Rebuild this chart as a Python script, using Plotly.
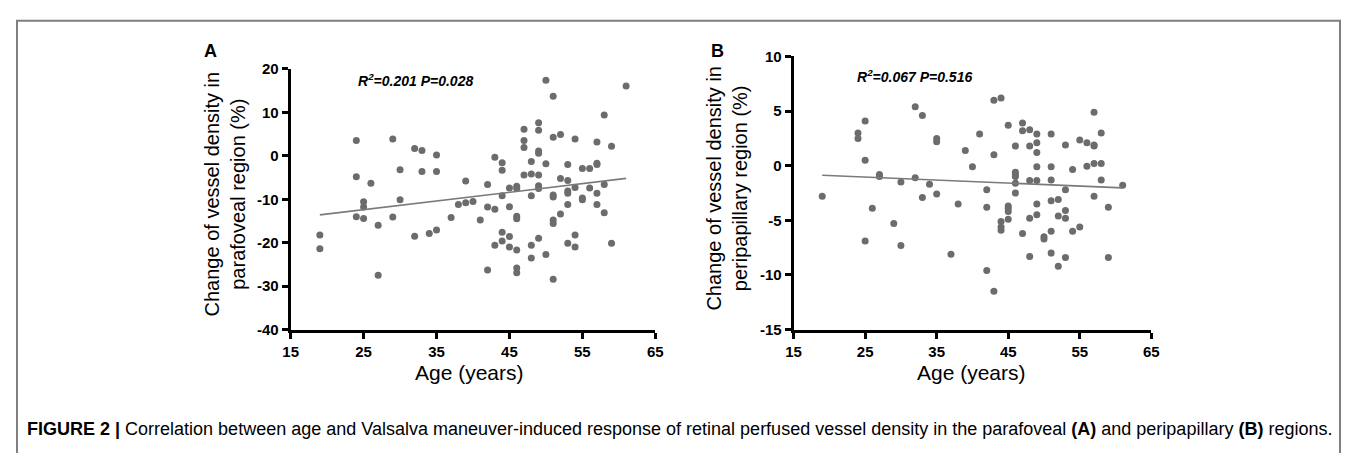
import plotly.graph_objects as go

# ---------------- data ----------------
age_a = [19, 19, 24, 24, 24, 25, 25, 25, 26, 27, 27, 29, 29, 30, 30, 32, 32, 33, 33, 34,
         35, 35, 35, 37, 38, 39, 39, 40, 41, 42, 42, 42, 43, 43, 43, 44, 44, 44, 44, 44,
         45, 45, 45, 45, 46, 46, 46, 46, 46, 46, 46, 47, 47, 47, 47, 48, 48, 48, 48, 48,
         49, 49, 49, 49, 49, 49, 49, 49, 50, 50, 50, 51, 51, 51, 51, 51, 51, 51, 52, 52,
         52, 53, 53, 53, 53, 53, 53, 54, 54, 54, 54, 55, 55, 55, 56, 56, 57, 57, 57, 57,
         57, 58, 58, 58, 59, 59, 61]
val_a = [-18.2, -21.4, 3.5, -4.8, -14.0, -10.6, -11.8, -14.4, -6.3, -16.0, -27.5, 3.9, -14.1, -3.2, -10.1, 1.7, -18.5, 1.2, -3.6, -17.9,
         0.2, -3.6, -17.1, -14.2, -11.2, -5.8, -10.8, -10.5, -14.8, -6.6, -11.8, -26.3, -0.3, -12.3, -20.6, -1.6, -3.3, -9.2, -17.6, -19.6,
         -7.4, -11.7, -18.6, -21.0, -7.0, -7.5, -13.9, -14.5, -21.7, -25.8, -26.9, 6.1, 3.5, 1.9, -4.4, -1.3, -4.2, -9.2, -20.6, -23.5,
         7.6, 5.9, 1.1, 0.6, -4.4, -6.9, -7.5, -19.0, 17.4, -1.8, -22.7, 13.7, 4.3, -9.0, -9.5, -14.8, -15.6, -28.4, 4.9, -5.2,
         -13.4, -2.0, -5.7, -8.1, -8.6, -11.2, -20.1, 3.9, -7.3, -18.2, -21.0, -2.9, -9.7, -10.1, -2.9, -7.4, -2.0, -1.7, 3.2, -8.6,
         -11.2, 9.4, -6.6, -13.1, 2.2, -20.1, 16.1]
fit_age_a = [19, 61]
fit_val_a = [-13.6, -5.2]

age_b = [19, 24, 24, 25, 25, 25, 26, 27, 27, 29, 30, 30, 32, 32, 33, 33, 34, 35, 35, 35,
         37, 38, 39, 40, 41, 42, 42, 42, 43, 43, 43, 44, 44, 44, 44, 45, 45, 45, 45, 45,
         46, 46, 46, 46, 46, 46, 47, 47, 47, 48, 48, 48, 48, 48, 49, 49, 49, 49, 49, 49,
         49, 50, 50, 51, 51, 51, 51, 51, 51, 52, 52, 52, 53, 53, 53, 53, 53, 54, 54, 55,
         55, 56, 56, 57, 57, 57, 57, 57, 58, 58, 58, 59, 59, 61]
val_b = [-2.8, 3.0, 2.5, 4.1, 0.5, -6.9, -3.9, -0.8, -1.0, -5.3, -1.5, -7.3, 5.4, -1.1, 4.6, -2.9, -1.7, 2.5, 2.2, -2.6,
         -8.1, -3.5, 1.4, -0.1, 2.9, -2.2, -3.8, -9.6, 6.0, 1.0, -11.5, 6.2, -5.1, -5.6, -5.9, 3.7, -4.9, -3.7, -3.9, -4.2,
         1.8, -0.6, -0.8, -1.0, -1.6, -2.5, 3.9, 3.2, -6.2, 3.3, 1.8, -1.35, -4.8, -8.3, 2.9, 2.1, 1.2, -0.1, -1.35, -3.5,
         -4.5, -6.5, -6.7, 2.9, -0.1, -1.3, -3.2, -6.0, -8.0, -3.1, -4.6, -9.2, 1.9, -2.2, -4.1, -4.8, -8.4, -0.35, -6.0, 2.35,
         -5.6, 2.1, -0.05, 4.9, 1.9, 1.8, 0.2, -2.8, 3.0, 0.2, -1.3, -3.8, -8.4, -1.8]
fit_age_b = [19, 61]
fit_val_b = [-0.88, -2.03]

x_ticks = [15, 25, 35, 45, 55, 65]
y_ticks_a = [-40, -30, -20, -10, 0, 10, 20]
y_ticks_b = [-15, -10, -5, 0, 5, 10]

caption_bold = "FIGURE 2 |"
caption_rest = ("Correlation between age and Valsalva maneuver-induced response of retinal perfused "
                "vessel density in the parafoveal <b>(A)</b> and peripapillary <b>(B)</b> regions.")

# ---------------- layout helpers ----------------
# page is 1357x461; the default 8px body margin surrounds the figure,
# so the figure is sized to fit exactly inside it.
PAGE_MARGIN = 8
W, H = 1357 - 2 * PAGE_MARGIN, 461 - 2 * PAGE_MARGIN
def px(x):
    return (x - PAGE_MARGIN) / W
def py(y):
    return 1 - (y - PAGE_MARGIN) / H

FONT = "Liberation Sans, Arial, sans-serif"
MARK = "#6c6c6c"
LINE = "#7a7a7a"

fig = go.Figure()
fig.add_trace(go.Scatter(x=age_a, y=val_a, mode="markers", xaxis="x", yaxis="y",
                         marker=dict(size=7, color=MARK), showlegend=False, hoverinfo="skip"))
fig.add_trace(go.Scatter(x=fit_age_a, y=fit_val_a, mode="lines", xaxis="x", yaxis="y",
                         line=dict(color=LINE, width=1.6), showlegend=False, hoverinfo="skip"))
fig.add_trace(go.Scatter(x=age_b, y=val_b, mode="markers", xaxis="x2", yaxis="y2",
                         marker=dict(size=7, color=MARK), showlegend=False, hoverinfo="skip"))
fig.add_trace(go.Scatter(x=fit_age_b, y=fit_val_b, mode="lines", xaxis="x2", yaxis="y2",
                         line=dict(color=LINE, width=1.6), showlegend=False, hoverinfo="skip"))

axis_common = dict(showline=True, linecolor="black", linewidth=3, ticks="outside",
                   ticklen=6, tickwidth=2.5, tickcolor="black", showgrid=False,
                   zeroline=False, mirror=False,
                   tickfont=dict(family=FONT, size=15, color="black", weight="bold"))

def labels(vals):
    return [str(v) for v in vals]

fig.update_layout(
    width=W, height=H,
    margin=dict(l=0, r=0, t=0, b=0),
    paper_bgcolor="white", plot_bgcolor="white",
    xaxis=dict(domain=[px(286), px(655)], range=[15, 65], tickvals=x_ticks,
               ticktext=labels(x_ticks), anchor="y", **axis_common),
    yaxis=dict(domain=[py(333), py(62)], range=[-40, 20], tickvals=y_ticks_a,
               ticktext=labels(y_ticks_a), anchor="x", **axis_common),
    xaxis2=dict(domain=[px(795), px(1157)], range=[15, 65], tickvals=x_ticks,
                ticktext=labels(x_ticks), anchor="y2", **axis_common),
    yaxis2=dict(domain=[py(333), py(49)], range=[-15, 10], tickvals=y_ticks_b,
                ticktext=labels(y_ticks_b), anchor="x2", **axis_common),
)

ann = []
# panel letters
ann.append(dict(x=px(205), y=py(43), text="<b>A</b>", font=dict(family=FONT, size=18, color="black")))
ann.append(dict(x=px(718), y=py(43), text="<b>B</b>", font=dict(family=FONT, size=18, color="black")))
# stats
ann.append(dict(x=px(352), y=py(73), xanchor="left", text="<b><i>R<sup>2</sup>=0.201 P=0.028</i></b>",
                font=dict(family=FONT, size=14, color="black")))
ann.append(dict(x=px(857), y=py(69), xanchor="left", text="<b><i>R<sup>2</sup>=0.067 P=0.516</i></b>",
                font=dict(family=FONT, size=14, color="black")))
# axis titles
ann.append(dict(x=px(467), y=py(378), text="Age (years)", font=dict(family=FONT, size=21, color="black")))
ann.append(dict(x=px(975), y=py(378), text="Age (years)", font=dict(family=FONT, size=21, color="black")))
ann.append(dict(x=px(219), y=py(192), textangle=-90,
                text="Change of vessel density in<br>parafoveal region (%)",
                font=dict(family=FONT, size=20, color="black")))
ann.append(dict(x=px(728), y=py(186), textangle=-90,
                text="Change of vessel density in<br>peripapillary region (%)",
                font=dict(family=FONT, size=20, color="black")))
# caption
ann.append(dict(x=px(17), y=py(436), xanchor="left",
                text="<b>" + caption_bold + "</b> " + caption_rest,
                font=dict(family=FONT, size=18, color="black")))

for a in ann:
    a.update(xref="paper", yref="paper", showarrow=False)
    a.setdefault("xanchor", "center")
    a.setdefault("yanchor", "middle")
fig.update_layout(annotations=ann)

# outer frame
fig.add_shape(type="rect", xref="paper", yref="paper",
              x0=px(9), x1=px(1348), y0=py(520), y1=py(12),
              line=dict(color="#7f7f7f", width=2), fillcolor="rgba(0,0,0,0)", layer="below")

fig.write_html("out.html", config={"displayModeBar": False})
